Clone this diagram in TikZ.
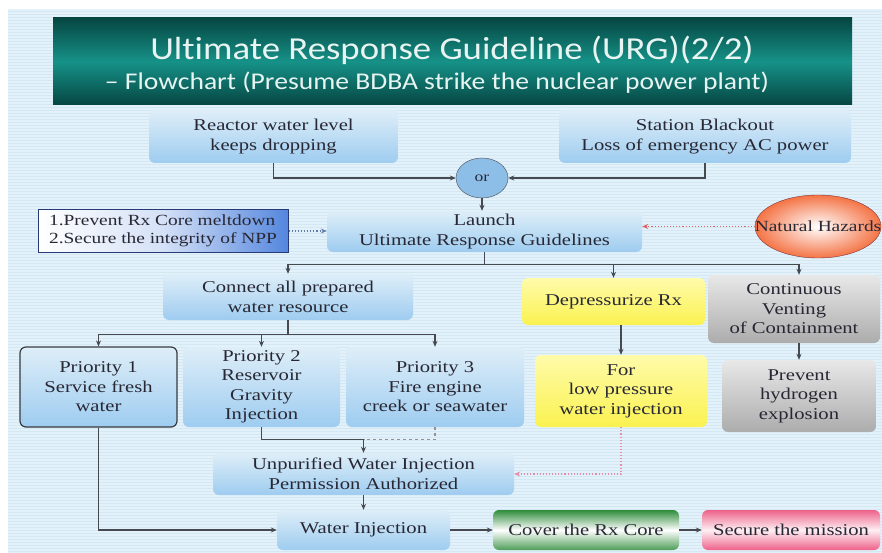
\documentclass[tikz,border=0pt]{standalone}
\usepackage{fontspec}
\setmainfont{Liberation Serif}[FakeStretch=1.25]
\newfontfamily\ttlfont{Carlito}[FakeStretch=1.15,Ligatures=NoCommon]
\usetikzlibrary{positioning,calc}
\usetikzlibrary{arrows.meta,shapes.geometric}
\definecolor{BgBlue}{RGB}{227,241,250}
\definecolor{StripeBlue}{RGB}{212,232,244}
\definecolor{TealDark}{RGB}{6,70,66}
\definecolor{TealMid}{RGB}{22,146,136}
\definecolor{TitleInk}{RGB}{232,244,242}
\definecolor{BoxTop}{RGB}{222,238,248}
\definecolor{BoxBot}{RGB}{158,204,240}
\definecolor{InkGray}{RGB}{40,40,52}
\definecolor{LineGray}{RGB}{70,74,80}
\definecolor{GoalBlue}{RGB}{84,134,222}
\definecolor{GoalNavy}{RGB}{40,58,118}
\definecolor{HazOrange}{RGB}{244,116,70}
\definecolor{YelTop}{RGB}{255,251,170}
\definecolor{YelBot}{RGB}{250,242,80}
\definecolor{GrayTop}{RGB}{232,232,232}
\definecolor{GrayBot}{RGB}{172,172,172}
\definecolor{LeafGreen}{RGB}{46,140,58}
\definecolor{RosePink}{RGB}{238,98,138}
\definecolor{OrBlue}{RGB}{140,190,232}
\definecolor{DotBlue}{RGB}{100,124,168}
\definecolor{DotRed}{RGB}{224,96,100}
\definecolor{DotPink}{RGB}{228,140,168}
\tikzset{
  stripe/.style={draw=StripeBlue,line width=0.6pt},
  banner/.style={top color=TealDark,bottom color=TealDark,middle color=TealMid},
  box/.style={rounded corners=6pt,top color=BoxTop,bottom color=BoxBot,align=center,
    inner sep=2pt,text=InkGray,font=\fontsize{16.5}{19.5}\selectfont},
  p1box/.style={box,draw=LineGray!80!black,line width=1.2pt},
  goalbox/.style={draw=GoalNavy,line width=1pt,left color=white,right color=GoalBlue,
    middle color=white!75!GoalBlue,align=left,inner sep=2pt,text=InkGray,
    font=\fontsize{15.5}{18.5}\selectfont},
  yelbox/.style={box,top color=YelTop,bottom color=YelBot},
  graybox/.style={box,top color=GrayTop,bottom color=GrayBot},
  greenbox/.style={box,top color=LeafGreen,bottom color=LeafGreen!85,middle color=white},
  pinkbox/.style={box,top color=RosePink,bottom color=RosePink,middle color=RosePink!10},
  orgate/.style={ellipse,draw=LineGray,fill=OrBlue,inner sep=0pt,text=InkGray,
    font=\fontsize{14}{16}\selectfont},
  hazard/.style={ellipse,draw=LineGray!70!red,inner color=white,outer color=HazOrange,inner sep=0pt},
  wire/.style={draw=LineGray,line width=1.1pt},
  link/.style={wire,-{Stealth[length=6pt,width=5pt]}},
  dotlink/.style={draw=DotBlue,line width=1.1pt,dotted,-{Stealth[length=6pt,width=5pt]}},
  hazlink/.style={draw=DotRed,line width=1.1pt,dotted,-{Stealth[length=6pt,width=5pt]}},
  pinklink/.style={draw=DotPink,line width=1.1pt,dotted,-{Stealth[length=6pt,width=5pt]}},
}
\begin{document}
\begin{tikzpicture}[x=1pt,y=-1pt]
\useasboundingbox (0,0) rectangle (882,553);
\fill[BgBlue] (8,9) rectangle (882,553);
\foreach \y in {11,14,...,551} \draw[stripe] (8,\y)--(882,\y);
% title banner
\node[banner,minimum width=799pt,minimum height=87pt] (ttl) at (452.5,61.5) {};
\node[font=\ttlfont\fontsize{32}{34}\selectfont,text=TitleInk] (ttlA) at (452,50) {Ultimate Response Guideline (URG)(2/2)};
\node[font=\ttlfont\fontsize{24}{26}\selectfont,text=TitleInk] (ttlB) at (437,83) {– Flowchart (Presume BDBA strike the nuclear power plant)};
% triggers
\node[box,minimum width=249pt,minimum height=53pt] (reac) at (273.5,136.5) {Reactor water level\\keeps dropping};
\node[box,minimum width=292pt,minimum height=53pt] (sbo) at (705,136.5) {Station Blackout\\Loss of emergency AC power};
\node[orgate,minimum width=52pt,minimum height=40pt] (or) at (482,178) {or};
\node[box,minimum width=315pt,minimum height=41pt] (launch) at (484.5,231.5) {Launch\\Ultimate Response Guidelines};
\node[goalbox,minimum width=250pt,minimum height=42pt] (goal) at (163,231) {1.Prevent Rx Core meltdown\\2.Secure the integrity of NPP};
\node[hazard,minimum width=126pt,minimum height=63pt] (hazard) at (818,226.5) {};
\node[font=\fontsize{15.5}{18}\selectfont,text=InkGray] (hazardT) at (hazard) {Natural Hazards};
% branches
\node[box,minimum width=250pt,minimum height=46pt] (connect) at (288,297) {Connect all prepared\\water resource};
\node[yelbox,minimum width=183pt,minimum height=47pt] (depr) at (613.5,301.5) {Depressurize Rx};
\node[graybox,minimum width=172pt,minimum height=68pt] (vent) at (794,309) {Continuous\\Venting\\of Containment};
\node[p1box,minimum width=157pt,minimum height=80pt] (prio1) at (98.5,387) {Priority 1\\Service fresh\\water};
\node[box,minimum width=157pt,minimum height=80pt] (prio2) at (261.5,387) {Priority 2\\Reservoir\\Gravity\\Injection};
\node[box,minimum width=178pt,minimum height=80pt] (prio3) at (435,387) {Priority 3\\Fire engine\\creek or seawater};
\node[yelbox,minimum width=172pt,minimum height=72pt] (lowp) at (621,391) {For\\low pressure\\water injection};
\node[graybox,minimum width=154pt,minimum height=72pt] (hydro) at (799,396) {Prevent\\hydrogen\\explosion};
\node[box,minimum width=301pt,minimum height=42pt] (unpur) at (363.5,474) {Unpurified Water Injection\\Permission Authorized};
\node[box,minimum width=173pt,minimum height=40pt] (winj) at (363.5,530) {Water Injection};
\node[greenbox,minimum width=186pt,minimum height=40pt] (cover) at (586,530) {Cover the Rx Core};
\node[pinkbox,minimum width=178pt,minimum height=40pt] (secure) at (791,530) {Secure the mission};
% connectors
\draw[link] (reac.south) |- (or.west);
\draw[link] (sbo.south) |- (or.east);
\draw[link] (or.south) -- (or.south |- launch.north);
\draw[dotlink] (goal.east) -- (goal.east -| launch.west);
\draw[hazlink] (hazard.west) -- (hazard.west -| launch.east);
\coordinate (busA) at ($(launch.south)+(0,12)$);
\draw[wire] (launch.south) -- (busA);
\draw[wire] (busA -| connect.north) -- (busA -| hydro.north);
\draw[link] (busA -| connect.north) -- (connect.north);
\draw[link] (busA -| depr.north) -- (depr.north);
\draw[link] (busA -| hydro.north) -- (vent.north -| hydro.north);
\draw[link] (depr.south -| lowp.north) -- (lowp.north);
\draw[link] (vent.south -| hydro.north) -- (hydro.north);
\coordinate (busB) at ($(connect.south)+(0,14)$);
\draw[wire] (connect.south) -- (busB);
\draw[wire] (busB -| prio1.north) -- (busB -| prio3.north);
\foreach \p in {prio1,prio2,prio3} \draw[link] (busB -| \p.north) -- (\p.north);
\coordinate (join) at ($(unpur.north)+(0,-13)$);
\draw[wire] (prio2.south) |- (join);
\draw[wire,dashed,draw=LineGray!60] (prio3.south) |- (join);
\draw[link] (join) -- (unpur.north);
\draw[pinklink] (lowp.south) |- (unpur.east);
\draw[link] (unpur.south) -- (winj.north);
\draw[link] (prio1.south) |- (winj.west);
\draw[link] (winj.east) -- (cover.west);
\draw[link] (cover.east) -- (secure.west);
\end{tikzpicture}
\end{document}
